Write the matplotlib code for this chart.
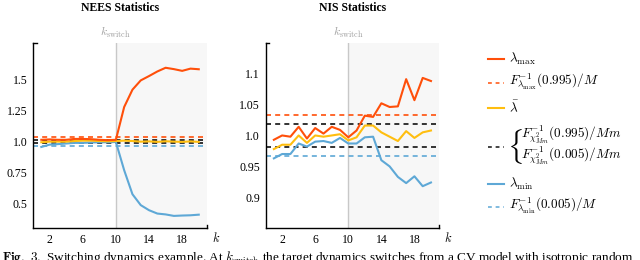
import numpy as np
import matplotlib
matplotlib.use("Agg")
import matplotlib.pyplot as plt

plt.rcParams["font.family"] = ["Liberation Serif", "DejaVu Serif"]
plt.rcParams["mathtext.fontset"] = "cm"
plt.rcParams["font.size"] = 8

# Data
k = np.arange(1, 21)
k_switch = 10

nees_max = [1.015, 1.018, 1.015, 1.015, 1.022, 1.022, 1.02, 1.015, 1.012, 1.015,
            1.28, 1.42, 1.495, 1.53, 1.567, 1.597, 1.586, 1.572, 1.59, 1.585]
nees_mean = [0.995, 1.0, 1.0, 1.0, 1.005, 1.008, 1.008, 1.005, 1.003, 1.005,
             1.008, 1.005, 1.0, 1.002, 0.998, 1.003, 1.0, 0.998, 1.002, 0.998]
nees_min = [0.957, 0.976, 0.98, 0.985, 0.99, 0.99, 0.993, 0.995, 0.995, 0.997,
            0.769, 0.575, 0.487, 0.446, 0.419, 0.412, 0.40, 0.403, 0.405, 0.41]
nees_bounds = {"max": 1.04, "hi": 1.012, "lo": 0.988, "min": 0.962}

nis_max = [0.993, 1.0, 0.998, 1.014, 0.995, 1.012, 1.003, 1.014, 1.009, 0.997,
           1.008, 1.032, 1.030, 1.052, 1.046, 1.047, 1.091, 1.057, 1.093, 1.088]
nis_mean = [0.978, 0.985, 0.985, 1.0, 0.988, 1.0, 0.998, 1.0, 1.002, 0.992,
            0.997, 1.016, 1.016, 1.005, 0.998, 0.991, 1.007, 0.996, 1.005, 1.008]
nis_min = [0.963, 0.97, 0.97, 0.987, 0.982, 0.99, 0.991, 0.988, 0.996, 0.987,
           0.987, 0.997, 0.998, 0.96, 0.95, 0.933, 0.923, 0.934, 0.918, 0.924]
nis_bounds = {"max": 1.033, "hi": 1.018, "lo": 0.982, "min": 0.967}

x_ticks = [2, 6, 10, 14, 18]
nees_yticks = [0.5, 0.75, 1.0, 1.25, 1.5]
nees_ylabels = ["0.5", "0.75", "1.0", "1.25", "1.5"]
nis_yticks = [0.9, 0.95, 1.0, 1.05, 1.1]
nis_ylabels = ["0.9", "0.95", "1.0", "1.05", "1.1"]

c_max = "#ff4f0a"
c_mean = "#ffbe0f"
c_min = "#5ea8d6"
c_bound = "#111111"
shade = "#f7f7f7"
vgray = "#c8c8c8"

fig = plt.figure(figsize=(6.4, 2.6), dpi=100)
ax1 = fig.add_axes([0.0516, 0.122, 0.2719, 0.714])
ax2 = fig.add_axes([0.415, 0.122, 0.2713, 0.714])


def draw(ax, vmax, vmean, vmin, b, ylim, yticks, ylabels, title):
    ax.set_xlim(0, 21)
    ax.set_ylim(*ylim)
    ax.axvspan(k_switch, 21, color=shade, lw=0, zorder=0)
    ax.axvline(k_switch, color=vgray, lw=1.0, zorder=1)
    ax.axhline(b["max"], color=c_max, ls=(0, (3, 2.5)), lw=1.2, zorder=2)
    ax.axhline(b["hi"], color=c_bound, ls=(0, (3, 2.5)), lw=1.2, zorder=2)
    ax.axhline(b["lo"], color=c_bound, ls=(0, (3, 2.5)), lw=1.2, zorder=2)
    ax.axhline(b["min"], color=c_min, ls=(0, (3, 2.5)), lw=1.2, zorder=2)
    ax.plot(k, vmin, color=c_min, lw=1.5, zorder=3)
    ax.plot(k, vmean, color=c_mean, lw=1.5, zorder=4)
    ax.plot(k, vmax, color=c_max, lw=1.5, zorder=5)
    ax.set_xticks(x_ticks)
    ax.set_yticks(yticks)
    ax.set_yticklabels(ylabels)
    ax.tick_params(length=0, pad=4, labelsize=8.5)
    for s in ["top", "right"]:
        ax.spines[s].set_visible(False)
    for s in ["left", "bottom"]:
        ax.spines[s].set_linewidth(1.0)
    # small end marks on the axis lines
    ax.plot([0, 0.02], [1, 1], transform=ax.transAxes, color="black", lw=1.0, clip_on=False)
    ax.plot([1, 1], [0, 0.02], transform=ax.transAxes, color="black", lw=1.0, clip_on=False)
    ax.text(1.03, -0.05, "$k$", transform=ax.transAxes, ha="left", va="center", fontsize=9)
    ax.text(k_switch, ylim[1] + (ylim[1] - ylim[0]) * 0.015, r"$k_{\mathrm{switch}}$",
            color="#a0a0a0", ha="center", va="bottom", fontsize=8.5)
    ax.set_title(title, fontweight="bold", fontsize=8.5, pad=0, y=1.17)


draw(ax1, nees_max, nees_mean, nees_min, nees_bounds, (0.3, 1.8),
     nees_yticks, nees_ylabels, "NEES Statistics")
draw(ax2, nis_max, nis_mean, nis_min, nis_bounds, (0.85, 1.15),
     nis_yticks, nis_ylabels, "NIS Statistics")

# Legend drawn by hand
W, H = 640.0, 260.0


def fx(px):
    return px / W


def fy(py):
    return 1 - py / H


def leg_line(py, color, dashed):
    ls = (0, (2.5, 2.5)) if dashed else "-"
    fig.add_artist(plt.Line2D([fx(488), fx(504)], [fy(py), fy(py)], color=color,
                              lw=1.5 if not dashed else 1.1, ls=ls))


lf = 9.5
leg_line(59, c_max, False)
fig.text(fx(509), fy(59), r"$\lambda_{\max}$", va="center", fontsize=lf)
leg_line(83, c_max, True)
fig.text(fx(509), fy(82), r"$F^{-1}_{\lambda_{\max}}(0.995)/M$", va="center", fontsize=lf)
leg_line(108, c_mean, False)
fig.text(fx(509), fy(108), r"$\bar{\lambda}$", va="center", fontsize=lf)
leg_line(147, c_bound, True)
fig.text(fx(507), fy(146), r"$\{$", va="center", fontsize=21, color="black")
fig.text(fx(521), fy(135), r"$F^{-1}_{\chi^2_{Mm}}(0.995)/Mm$", va="center", fontsize=lf)
fig.text(fx(521), fy(156), r"$F^{-1}_{\chi^2_{Mm}}(0.005)/Mm$", va="center", fontsize=lf)
leg_line(184, c_min, False)
fig.text(fx(509), fy(184), r"$\lambda_{\min}$", va="center", fontsize=lf)
leg_line(207, c_min, True)
fig.text(fx(509), fy(206), r"$F^{-1}_{\lambda_{\min}}(0.005)/M$", va="center", fontsize=lf)

# caption (cut off at the bottom like in the source)
fig.text(0.003, fy(258), r"$\bf{Fig.\ 3.}$ Switching dynamics example. At $k_{\mathrm{switch}}$ the target dynamics switches from a CV model with isotropic random",
         va="center", ha="left", fontsize=9.5)

fig.savefig("out.png", dpi=100)
